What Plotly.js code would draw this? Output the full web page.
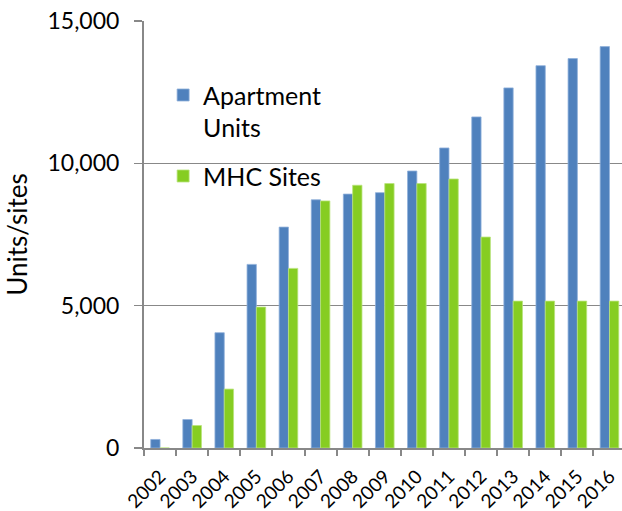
<!DOCTYPE html>
<html><head><meta charset="utf-8">
<script src="https://cdn.plot.ly/plotly-3.0.1.min.js"></script>
<style>html,body{margin:0;padding:0;background:#fff}</style>
</head><body><div id="chart" style="width:622px;height:511px"></div>
<script>
var years = ["2002","2003","2004","2005","2006","2007","2008","2009","2010","2011","2012","2013","2014","2015","2016"];
var apartmentUnits = [300,1000,4050,6450,7760,8720,8920,8970,9730,10540,11630,12650,13430,13680,14100];
var mhcSites = [0,790,2070,4950,6310,8680,9230,9290,9290,9450,7410,5160,5160,5160,5160];
var yTickVals = [0,5000,10000,15000];
var yTickText = ["0","5,000","10,000","15,000"];

var FONT = "Lato, 'Open Sans', sans-serif";
var data = [
  {type:"bar", name:"Apartment<br>Units", legendgroup:"a", x:years, y:apartmentUnits,
   marker:{color:"#4F81BD", line:{color:"#8fb0da", width:0.8}}},
  {type:"bar", name:"MHC Sites", legendgroup:"b", x:years, y:mhcSites,
   marker:{color:"#86CD22", line:{color:"#b9e37c", width:0.8}}}
];
var layout = {
  width:622, height:511,
  margin:{l:144, r:0, t:21, b:63},
  paper_bgcolor:"#fff", plot_bgcolor:"#fff",
  font:{family:FONT, color:"#000"},
  barmode:"group", bargap:0.42, bargroupgap:0,
  showlegend:true,
  legend:{x:0.04, y:0.88, xanchor:"left", yanchor:"top", valign:"top",
          traceorder:"grouped",
          font:{size:25, family:FONT}, bgcolor:"rgba(0,0,0,0)", tracegroupgap:13},
  xaxis:{type:"category", range:[-0.5,14.39], showgrid:false,
         showline:true, linecolor:"#888", linewidth:2,
         ticks:"outside", tickson:"boundaries", ticklen:6, tickcolor:"#888", tickwidth:2,
         ticklabelstandoff:8,
         tickangle:-45, tickfont:{size:19, family:FONT}, zeroline:false},
  yaxis:{range:[0,15000], tickvals:yTickVals, ticktext:yTickText,
         showgrid:true, gridcolor:"#888", gridwidth:1.5,
         showline:true, linecolor:"#888", linewidth:2,
         ticks:"outside", ticklen:8, tickcolor:"#888", tickwidth:1.5,
         ticklabelstandoff:10,
         tickfont:{size:23, family:FONT}, zeroline:false,
         title:{text:"Units/sites", font:{size:26, family:FONT}, standoff:12}}
};
Plotly.newPlot("chart", data, layout, {displayModeBar:false, staticPlot:true});
</script></body></html>
